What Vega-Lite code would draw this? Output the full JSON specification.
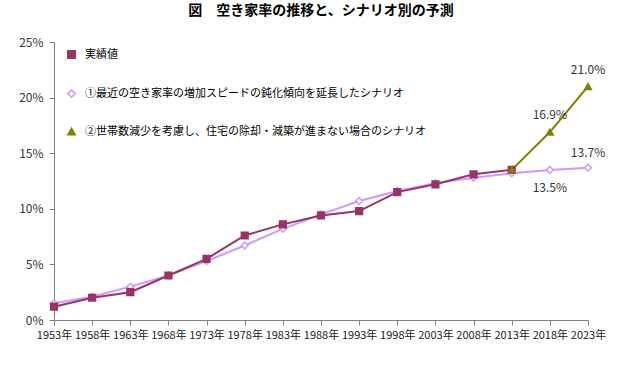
{
  "$schema": "https://vega.github.io/schema/vega-lite/v6.json",
  "width": 534,
  "height": 278,
  "autosize": {"type": "none"},
  "padding": {"left": 54, "top": 42, "right": 42, "bottom": 46},
  "title": {"text": "図　空き家率の推移と、シナリオ別の予測", "fontSize": 14, "fontWeight": "bold", "font": "Noto Sans CJK JP", "anchor": "middle", "offset": 18, "color": "#000"},
  "config": {"view": {"stroke": null}, "font": "Noto Sans CJK JP",
    "legend": {"title": null, "orient": "none", "legendX": 12, "legendY": 7, "rowPadding": 24, "labelFontSize": 11, "labelColor": "#000", "labelLimit": 500, "labelOffset": 8, "symbolSize": 55, "symbolStrokeWidth": 1.5}},
  "data": {"values": [
    {"series": "①最近の空き家率の増加スピードの鈍化傾向を延長したシナリオ", "year": "1953年", "value": 0.015},
    {"series": "①最近の空き家率の増加スピードの鈍化傾向を延長したシナリオ", "year": "1958年", "value": 0.021},
    {"series": "①最近の空き家率の増加スピードの鈍化傾向を延長したシナリオ", "year": "1963年", "value": 0.030},
    {"series": "①最近の空き家率の増加スピードの鈍化傾向を延長したシナリオ", "year": "1968年", "value": 0.040},
    {"series": "①最近の空き家率の増加スピードの鈍化傾向を延長したシナリオ", "year": "1973年", "value": 0.053},
    {"series": "①最近の空き家率の増加スピードの鈍化傾向を延長したシナリオ", "year": "1978年", "value": 0.067},
    {"series": "①最近の空き家率の増加スピードの鈍化傾向を延長したシナリオ", "year": "1983年", "value": 0.082},
    {"series": "①最近の空き家率の増加スピードの鈍化傾向を延長したシナリオ", "year": "1988年", "value": 0.095},
    {"series": "①最近の空き家率の増加スピードの鈍化傾向を延長したシナリオ", "year": "1993年", "value": 0.107},
    {"series": "①最近の空き家率の増加スピードの鈍化傾向を延長したシナリオ", "year": "1998年", "value": 0.116},
    {"series": "①最近の空き家率の増加スピードの鈍化傾向を延長したシナリオ", "year": "2003年", "value": 0.123},
    {"series": "①最近の空き家率の増加スピードの鈍化傾向を延長したシナリオ", "year": "2008年", "value": 0.128},
    {"series": "①最近の空き家率の増加スピードの鈍化傾向を延長したシナリオ", "year": "2013年", "value": 0.132},
    {"series": "①最近の空き家率の増加スピードの鈍化傾向を延長したシナリオ", "year": "2018年", "value": 0.135},
    {"series": "①最近の空き家率の増加スピードの鈍化傾向を延長したシナリオ", "year": "2023年", "value": 0.137},
    {"series": "実績値", "year": "1953年", "value": 0.012},
    {"series": "実績値", "year": "1958年", "value": 0.020},
    {"series": "実績値", "year": "1963年", "value": 0.025},
    {"series": "実績値", "year": "1968年", "value": 0.040},
    {"series": "実績値", "year": "1973年", "value": 0.055},
    {"series": "実績値", "year": "1978年", "value": 0.076},
    {"series": "実績値", "year": "1983年", "value": 0.086},
    {"series": "実績値", "year": "1988年", "value": 0.094},
    {"series": "実績値", "year": "1993年", "value": 0.098},
    {"series": "実績値", "year": "1998年", "value": 0.115},
    {"series": "実績値", "year": "2003年", "value": 0.122},
    {"series": "実績値", "year": "2008年", "value": 0.131},
    {"series": "実績値", "year": "2013年", "value": 0.135},
    {"series": "②世帯数減少を考慮し、住宅の除却・減築が進まない場合のシナリオ", "year": "2013年", "value": 0.135},
    {"series": "②世帯数減少を考慮し、住宅の除却・減築が進まない場合のシナリオ", "year": "2018年", "value": 0.169},
    {"series": "②世帯数減少を考慮し、住宅の除却・減築が進まない場合のシナリオ", "year": "2023年", "value": 0.210}
  ]},
  "encoding": {
    "x": {"field": "year", "type": "ordinal", "scale": {"padding": 0},
      "axis": {"title": null, "labelAngle": 0, "grid": false, "domainColor": "#808080", "tickColor": "#808080", "tickSize": 5, "labelFontSize": 11, "labelColor": "#222", "labelPadding": 4, "labelOverlap": false}},
    "y": {"field": "value", "type": "quantitative", "scale": {"domain": [0, 0.25], "nice": false},
      "axis": {"title": null, "format": ".0%", "values": [0, 0.05, 0.1, 0.15, 0.2, 0.25], "grid": false, "domainColor": "#808080", "tickColor": "#808080", "tickSize": 5, "labelFontSize": 12, "labelColor": "#333", "labelPadding": 6}}
  },
  "layer": [
    {
      "mark": {"type": "line", "strokeWidth": 2},
      "encoding": {
        "stroke": {"field": "series", "type": "nominal",
          "scale": {"domain": ["実績値", "①最近の空き家率の増加スピードの鈍化傾向を延長したシナリオ", "②世帯数減少を考慮し、住宅の除却・減築が進まない場合のシナリオ"], "range": ["#993366", "#cc99ff", "#808000"]}}
      }
    },
    {
      "mark": {"type": "point", "filled": true, "size": 45, "strokeWidth": 1.5, "opacity": 1},
      "encoding": {
        "shape": {"field": "series", "type": "nominal",
          "scale": {"domain": ["実績値", "①最近の空き家率の増加スピードの鈍化傾向を延長したシナリオ", "②世帯数減少を考慮し、住宅の除却・減築が進まない場合のシナリオ"], "range": ["square", "diamond", "triangle-up"]}},
        "fill": {"field": "series", "type": "nominal",
          "scale": {"domain": ["実績値", "①最近の空き家率の増加スピードの鈍化傾向を延長したシナリオ", "②世帯数減少を考慮し、住宅の除却・減築が進まない場合のシナリオ"], "range": ["#993366", "#ffffff", "#808000"]}},
        "stroke": {"field": "series", "type": "nominal"}
      }
    },
    {
      "transform": [{"filter": "datum.series[0] == '②' && datum.year == '2023年'"}],
      "mark": {"type": "text", "dy": -16, "fontSize": 12, "color": "#333"},
      "encoding": {"text": {"field": "value", "format": ".1%"}}
    },
    {
      "transform": [{"filter": "datum.series[0] == '②' && datum.year == '2018年'"}],
      "mark": {"type": "text", "dy": -17, "fontSize": 12, "color": "#333"},
      "encoding": {"text": {"field": "value", "format": ".1%"}}
    },
    {
      "transform": [{"filter": "datum.series[0] == '①' && datum.year == '2023年'"}],
      "mark": {"type": "text", "dy": -15, "fontSize": 12, "color": "#333"},
      "encoding": {"text": {"field": "value", "format": ".1%"}}
    },
    {
      "transform": [{"filter": "datum.series[0] == '①' && datum.year == '2018年'"}],
      "mark": {"type": "text", "dy": 18, "fontSize": 12, "color": "#333"},
      "encoding": {"text": {"field": "value", "format": ".1%"}}
    }
  ]
}
